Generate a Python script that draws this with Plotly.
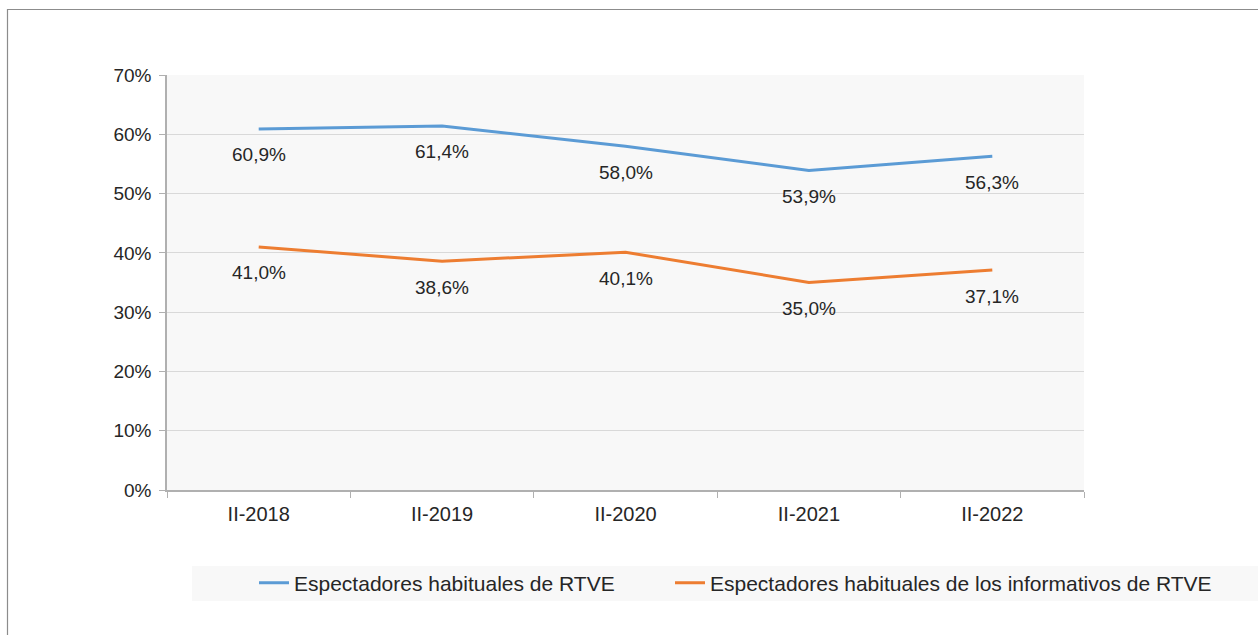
import plotly.graph_objects as go

categories = ["II-2018", "II-2019", "II-2020", "II-2021", "II-2022"]
rtve = [60.9, 61.4, 58.0, 53.9, 56.3]
informativos = [41.0, 38.6, 40.1, 35.0, 37.1]
series_names = ["Espectadores habituales de RTVE",
                "Espectadores habituales de los informativos de RTVE"]
tick_vals = [0, 10, 20, 30, 40, 50, 60, 70]
tick_text = [f"{v}%" for v in tick_vals]

W, H = 1258, 635
L, R, T, B = 167, 1084, 75, 490
pw, ph = R - L, B - T

def px_x(x):
    return (x - L) / pw

def px_y(y):
    return (B - y) / ph

TXT = "#262626"
FONT = "Liberation Sans, Arial, sans-serif"

fig = go.Figure()
fig.add_trace(go.Scatter(x=categories, y=rtve, mode="lines", name=series_names[0],
                         line=dict(color="#5b9bd5", width=3), legend="legend"))
fig.add_trace(go.Scatter(x=categories, y=informativos, mode="lines", name=series_names[1],
                         line=dict(color="#ed7d31", width=3), legend="legend2"))

annotations = []
for series in (rtve, informativos):
    for c, v in zip(categories, series):
        annotations.append(dict(x=c, y=v, xref="x", yref="y", showarrow=False,
                                text=f"{v:.1f}%".replace(".", ","), yshift=-26,
                                font=dict(size=19, color=TXT, family=FONT)))

shapes = [
    # outer frame
    dict(type="rect", xref="paper", yref="paper", layer="below",
         x0=px_x(7.5), x1=px_x(1270), y0=px_y(650), y1=px_y(9.5),
         line=dict(color="#8c8c8c", width=1.2), fillcolor="rgba(0,0,0,0)"),
    # legend background
    dict(type="rect", xref="paper", yref="paper", layer="below",
         x0=px_x(192), x1=px_x(1262), y0=px_y(601), y1=px_y(566),
         line=dict(width=0), fillcolor="#f8f8f8"),
]

leg_common = dict(orientation="h", xanchor="left", y=px_y(583), yanchor="middle",
                  bgcolor="rgba(0,0,0,0)", font=dict(size=21, color=TXT, family=FONT))

fig.update_layout(
    width=W, height=H,
    margin=dict(l=L, r=W - R, t=T, b=H - B),
    paper_bgcolor="white", plot_bgcolor="#f8f8f8",
    font=dict(family=FONT, size=19, color=TXT),
    separators=",.",
    showlegend=True,
    legend=dict(x=px_x(254), **leg_common),
    legend2=dict(x=px_x(670), **leg_common),
    annotations=annotations,
    shapes=shapes,
)
fig.update_xaxes(type="category", range=[-0.5, len(categories) - 0.5], showgrid=False,
                 showline=True, linecolor="#b0b0b0", linewidth=1.5,
                 ticks="outside", tickson="boundaries", ticklen=6, tickcolor="#b0b0b0",
                 ticklabelstandoff=5,
                 tickfont=dict(size=20, color=TXT), zeroline=False, fixedrange=True)
fig.update_yaxes(range=[0, 70], tickvals=tick_vals, ticktext=tick_text, showgrid=True,
                 gridcolor="#d9d9d9", gridwidth=1, showline=True, linecolor="#b0b0b0", linewidth=1.5,
                 ticks="outside", ticklen=6, tickcolor="#b0b0b0", ticklabelstandoff=4,
                 tickfont=dict(size=19, color=TXT),
                 zeroline=False, fixedrange=True)

fig.write_html("out.html", config={"displayModeBar": False},
               post_script="document.body.style.margin='0';")
